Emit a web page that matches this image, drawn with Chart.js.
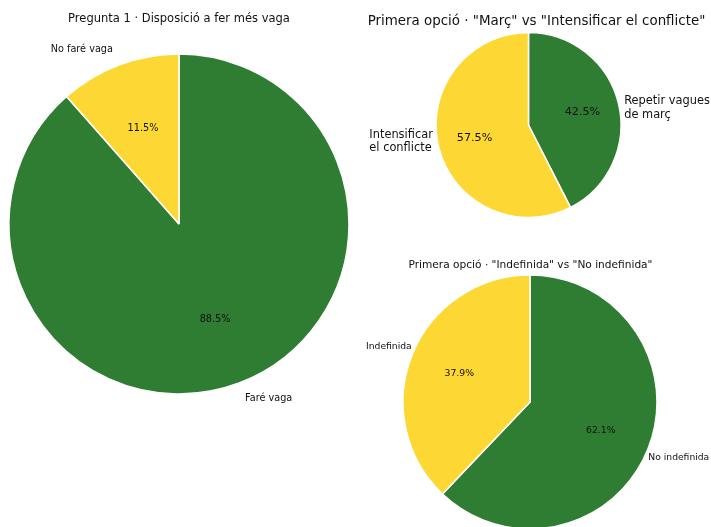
<!DOCTYPE html>
<html>
<head>
<meta charset="utf-8">
<script src="https://cdn.jsdelivr.net/npm/chart.js@4.4.1/dist/chart.umd.min.js"></script>
<style>
    html, body { margin: 0; padding: 0; background: #fff; overflow: hidden; width: 711px; height: 527px; }
    .box { position: absolute; }
</style>
</head>
<body>
<div class="box" id="box1" style="left:0;top:0;width:360px;height:527px"><canvas id="pie1"></canvas></div>
<div class="box" id="box2" style="left:360px;top:0;width:351px;height:240px"><canvas id="pie2"></canvas></div>
<div class="box" id="box3" style="left:360px;top:250px;width:351px;height:290px"><canvas id="pie3"></canvas></div>
<script>
// ================= DATA =================
const strikeLabels = ["Faré vaga", "No faré vaga"];
const strikeValues = [88.5, 11.5];

const marchLabels = ["Repetir vagues\nde març", "Intensificar\nel conflicte"];
const marchValues = [42.5, 57.5];

const indefLabels = ["No indefinida", "Indefinida"];
const indefValues = [62.1, 37.9];

const GREEN = "#2e7d32";
const YELLOW = "#fdd835";
const FONT = "'DejaVu Sans', sans-serif";

// draws title, outside labels and percentages like matplotlib's pie
const pieText = {
    id: "pieText",
    afterDatasetsDraw(chart, args, opts) {
        const ctx = chart.ctx;
        const meta = chart.getDatasetMeta(0);
        const values = chart.data.datasets[0].data;
        const total = values.reduce((a, b) => a + b, 0);
        ctx.save();
        ctx.fillStyle = "#111";
        ctx.textBaseline = "middle";

        meta.data.forEach((arc, i) => {
            const p = arc.getProps(["x", "y", "startAngle", "endAngle", "outerRadius"], true);
            const mid = (p.startAngle + p.endAngle) / 2 + (opts.labelTurn || 0);
            const cos = Math.cos(mid), sin = Math.sin(mid);

            // percentage
            ctx.font = opts.pctSize + "px " + FONT;
            ctx.textAlign = "center";
            const pm = (p.startAngle + p.endAngle) / 2;
            ctx.fillText((values[i] / total * 100).toFixed(1) + "%",
                p.x + Math.cos(pm) * p.outerRadius * 0.6,
                p.y + Math.sin(pm) * p.outerRadius * 0.6);

            // label
            ctx.font = opts.labelSize + "px " + FONT;
            ctx.textAlign = cos > 0 ? "left" : "right";
            const lines = chart.data.labels[i].split("\n");
            const lh = opts.labelSize * 1.2;
            const lx = p.x + cos * p.outerRadius * opts.labelDist;
            const ly = p.y + sin * p.outerRadius * opts.labelDist - (lines.length - 1) * lh / 2;
            if (lines.length > 1) {
                // left aligned block
                let w = Math.max(...lines.map(l => ctx.measureText(l).width));
                ctx.textAlign = "left";
                const bx = cos > 0 ? lx : lx - w;
                lines.forEach((l, k) => ctx.fillText(l, bx, ly + k * lh));
            } else {
                ctx.fillText(lines[0], lx, ly);
            }
        });

        // title
        ctx.font = opts.titleSize + "px " + FONT;
        ctx.textAlign = "center";
        ctx.fillText(opts.title, opts.titleX, opts.titleY);
        ctx.restore();
    }
};

function makePie(id, labels, values, colors, cfg) {
    const box = document.getElementById(id).parentNode;
    const W = box.clientWidth, H = box.clientHeight;
    const bw = 1.5;
    const side = cfg.r * 2 + bw;
    const left = cfg.cx - side / 2;
    const top = cfg.cy - side / 2;

    return new Chart(document.getElementById(id), {
        type: "pie",
        data: {
            labels: labels,
            datasets: [{
                data: values,
                backgroundColor: colors,
                borderColor: "#ffffff",
                borderWidth: bw
            }]
        },
        options: {
            responsive: true,
            maintainAspectRatio: false,
            animation: false,
            rotation: 0,
            layout: {
                padding: {
                    left: left,
                    top: top,
                    right: W - left - side,
                    bottom: H - top - side
                }
            },
            plugins: {
                legend: { display: false },
                tooltip: { enabled: false },
                pieText: cfg.text
            }
        },
        plugins: [pieText]
    });
}

makePie("pie1", strikeLabels, strikeValues, [GREEN, YELLOW], {
    cx: 179, cy: 224, r: 170,
    text: {
        title: "Pregunta 1 · Disposició a fer més vaga",
        titleX: 179, titleY: 19, titleSize: 11.5,
        labelSize: 9.7, pctSize: 9.7, labelDist: 1.1
    }
});

makePie("pie2", marchLabels, marchValues, [GREEN, YELLOW], {
    cx: 168.5, cy: 125, r: 92.5,
    text: {
        title: "Primera opció · \"Març\" vs \"Intensificar el conflicte\"",
        titleX: 176.5, titleY: 22, titleSize: 13.4,
        labelSize: 11.4, pctSize: 11.2, labelDist: 1.05, labelTurn: 0.063
    }
});

makePie("pie3", indefLabels, indefValues, [GREEN, YELLOW], {
    cx: 170, cy: 152, r: 127,
    text: {
        title: "Primera opció · \"Indefinida\" vs \"No indefinida\"",
        titleX: 170.5, titleY: 15, titleSize: 10.6,
        labelSize: 9.2, pctSize: 9.3, labelDist: 1.03, labelTurn: 0.06
    }
});
</script>
</body>
</html>
